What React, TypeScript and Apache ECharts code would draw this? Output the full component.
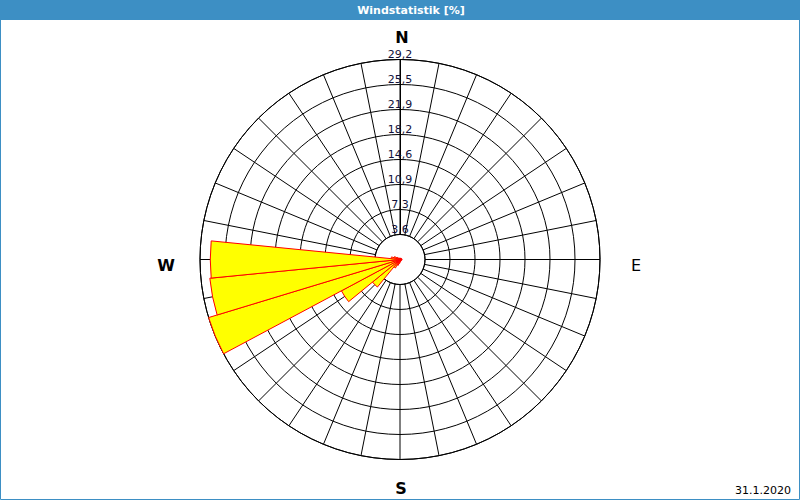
import React, { useEffect, useRef } from "react";
import * as echarts from "echarts";

// 32 compass directions, clockwise from North
const directions = [
  "N", "NzO", "NNO", "NOzN", "NO", "NOzO", "ONO", "OzN",
  "O", "OzS", "OSO", "SOzO", "SO", "SOzS", "SSO", "SzO",
  "S", "SzW", "SSW", "SWzS", "SW", "SWzW", "WSW", "WzS",
  "W", "WzN", "WNW", "NWzW", "NW", "NWzN", "NNW", "NzW",
];

// frequency per direction [%]
const frequency = [
  0.2, 0.2, 0.2, 0.2, 0.2, 0.2, 0.2, 0.3,
  0.3, 0.3, 0.2, 0.2, 0.2, 0.2, 0.2, 0.3,
  0.4, 0.6, 0.9, 1.4, 5.2, 9.7, 29.2, 27.9,
  27.7, 1.3, 0.9, 0.5, 0.3, 0.2, 0.2, 0.2,
];

const ringLabels = ["3,6", "7,3", "10,9", "14,6", "18,2", "21,9", "25,5", "29,2"];
const ringStep = 3.65;
const ringMax = 29.2;

const compassLabels = ["N", "E", "S", "W"];
const title = "Windstatistik [%]";
const dateText = "31.1.2020";

export default function App() {
  const ref = useRef<HTMLDivElement>(null);

  useEffect(() => {
    if (!ref.current) return;
    const chart = echarts.init(ref.current, null, { renderer: "svg" });
    const center = [400, 259.5];
    const outer = 200;
    const inner = 25;
    const compassFont = { fontSize: 16, fontWeight: "bold", fontFamily: "DejaVu Sans", fill: "#000" };
    chart.setOption({
      animation: false,
      backgroundColor: "#ffffff",
      polar: [
        { center, radius: [0, outer] },
        { center, radius: [inner, outer] },
      ],
      angleAxis: [
        {
          polarIndex: 0,
          type: "category",
          data: directions,
          startAngle: 90 + 180 / directions.length,
          clockwise: true,
          axisLine: { show: false },
          axisTick: { show: false },
          axisLabel: { show: false },
          splitLine: { show: false },
          z: 5,
        },
        {
          polarIndex: 1,
          type: "value",
          min: 0,
          max: 360,
          interval: 360 / directions.length,
          startAngle: 90,
          clockwise: true,
          axisLine: { show: true, lineStyle: { color: "#000", width: 1 } },
          axisTick: { show: false },
          axisLabel: { show: false },
          splitLine: { show: true, lineStyle: { color: "#000", width: 1 } },
        },
      ],
      radiusAxis: [
        {
          polarIndex: 0,
          type: "value",
          min: 0,
          max: ringMax,
          show: false,
        },
        {
          polarIndex: 1,
          type: "value",
          min: ringStep,
          max: ringMax,
          interval: ringStep,
          axisLine: { show: true, lineStyle: { color: "#000", width: 1 } },
          axisTick: { show: false },
          splitLine: { show: true, lineStyle: { color: "#000", width: 1 } },
          axisLabel: {
            show: true,
            margin: 0,
            align: "center",
            verticalAlign: "bottom",
            fontSize: 11,
            fontFamily: "DejaVu Sans",
            color: "#10103a",
            formatter: (_v: number, i: number) => ringLabels[i] ?? "",
          },
        },
      ],
      series: [
        {
          type: "bar",
          coordinateSystem: "polar",
          polarIndex: 0,
          data: frequency,
          barCategoryGap: "0%",
          barGap: "0%",
          itemStyle: { color: "#ffff00", borderColor: "#ff0000", borderWidth: 1 },
          z: 5,
        },
      ],
      graphic: [
        { type: "rect", shape: { x: 0.5, y: 0.5, width: 799, height: 499 }, style: { fill: "none", stroke: "#3d8fc4", lineWidth: 1 }, z: 10 },
        { type: "rect", shape: { x: 0, y: 0, width: 800, height: 20 }, style: { fill: "#3d8fc4" }, z: 10 },
        { type: "text", x: 411, y: 10, style: { text: title, fill: "#fff", fontSize: 11, fontWeight: "bold", fontFamily: "DejaVu Sans", align: "center", verticalAlign: "middle" }, z: 11 },
        { type: "text", x: 402, y: 37, style: { ...compassFont, text: compassLabels[0], align: "center", verticalAlign: "middle" } },
        { type: "text", x: 636, y: 265, style: { ...compassFont, text: compassLabels[1], fontWeight: "normal", align: "center", verticalAlign: "middle" } },
        { type: "text", x: 401, y: 488, style: { ...compassFont, text: compassLabels[2], align: "center", verticalAlign: "middle" } },
        { type: "text", x: 166, y: 265, style: { ...compassFont, text: compassLabels[3], align: "center", verticalAlign: "middle" } },
        { type: "text", x: 791, y: 490, style: { text: dateText, fill: "#000", fontSize: 11, fontFamily: "DejaVu Sans", align: "right", verticalAlign: "middle" } },
      ],
    });
    return () => chart.dispose();
  }, []);

  return (
    <div
      ref={ref}
      style={{ position: "fixed", left: 0, top: 0, width: 800, height: 500 }}
    />
  );
}
